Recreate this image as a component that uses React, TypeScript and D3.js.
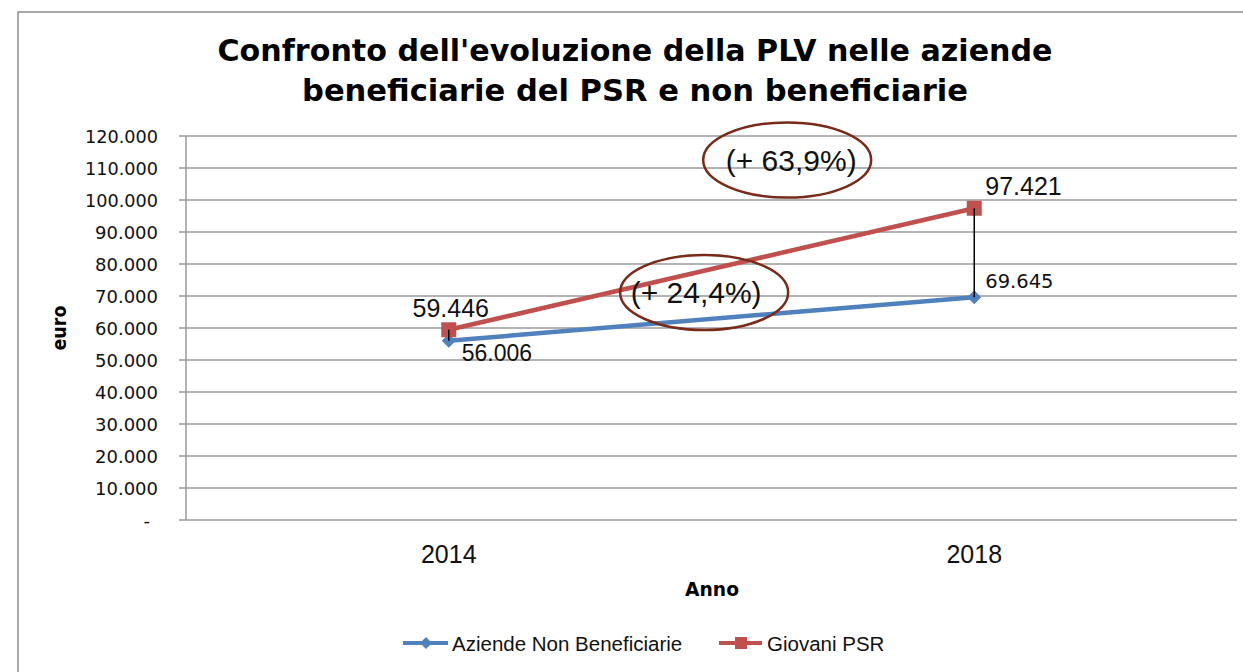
import * as d3 from 'd3';

// dati
const years = ['2014', '2018'];
const aziendeNonBenef = [56006, 69645];
const giovaniPSR = [59446, 97421];
const yTicks = [0, 10000, 20000, 30000, 40000, 50000, 60000, 70000, 80000, 90000, 100000, 110000, 120000];
const seriesNames = ['Aziende Non Beneficiarie', 'Giovani PSR'];
// annotazioni: t = frazione tra 2014 e 2018, v = valore sull'asse y
const growthLabels = ['(+ 24,4%)', '(+ 63,9%)'];
const growthT = [0.486, 0.644];
const growthV = [71100, 112500];

const W = 1243;
const H = 672;
const blue = '#4F81BD';
const red = '#C0504D';
const grid = '#9a9a9a';
const sans = "'Liberation Sans', Arial, sans-serif";
const tahoma = "'DejaVu Sans', Verdana, sans-serif";

const fmt = (v: number) => (v === 0 ? '-' : d3.format(',')(v).replace(/,/g, '.'));

function App() {
  const x = d3.scalePoint<string>().domain(years).range([186, 1237]).padding(0.5);
  const y = d3.scaleLinear().domain([0, 120000]).range([520, 136]);

  const line = d3
    .line<number>()
    .x((_, i) => x(years[i]) as number)
    .y((d) => y(d));

  const x0 = x(years[0]) as number;
  const x1 = x(years[1]) as number;

  const diamond = (cx: number, cy: number, r: number) =>
    `M${cx},${cy - r}L${cx + r},${cy}L${cx},${cy + r}L${cx - r},${cy}Z`;

  return (
    <svg
      width={W}
      height={H}
      style={{ position: 'absolute', left: 0, top: 0, display: 'block', background: '#fff' }}
    >
      <rect x={18} y={12} width={1400} height={800} fill="#fff" stroke="#8c8c8c" strokeWidth={1.5} />

      {/* titolo */}
      <text x={635} y={61} textAnchor="middle" fontFamily={tahoma} fontWeight="bold" fontSize={30.5}
        textLength={835} lengthAdjust="spacingAndGlyphs">
        Confronto dell'evoluzione della PLV nelle aziende
      </text>
      <text x={635} y={101} textAnchor="middle" fontFamily={tahoma} fontWeight="bold" fontSize={30.5}
        textLength={666} lengthAdjust="spacingAndGlyphs">
        beneficiarie del PSR e non beneficiarie
      </text>

      {/* griglia e asse y */}
      {yTicks.map((t) => (
        <g key={t}>
          <line x1={179} x2={1237} y1={y(t)} y2={y(t)} stroke={grid} strokeWidth={1.5} />
          <text
            x={t === 0 ? 150 : 158}
            y={y(t) + 7}
            textAnchor="end"
            fontFamily={tahoma}
            fontSize={18}
            textLength={t >= 100000 ? 73 : t > 0 ? 63 : undefined}
            lengthAdjust="spacingAndGlyphs"
            fill="#111"
          >
            {fmt(t)}
          </text>
        </g>
      ))}
      <line x1={186} x2={186} y1={y(120000)} y2={y(0)} stroke={grid} strokeWidth={1.5} />

      <text transform={`translate(66,328) rotate(-90)`} textAnchor="middle" fontFamily={tahoma}
        fontWeight="bold" fontSize={20} textLength={45} lengthAdjust="spacingAndGlyphs">
        euro
      </text>

      {/* asse x */}
      {years.map((yr) => (
        <text key={yr} x={x(yr)} y={563} textAnchor="middle" fontFamily={sans} fontSize={25} fill="#111">
          {yr}
        </text>
      ))}
      <text x={712} y={596} textAnchor="middle" fontFamily={tahoma} fontWeight="bold" fontSize={20}
        textLength={54} lengthAdjust="spacingAndGlyphs">
        Anno
      </text>

      {/* serie */}
      <path d={line(aziendeNonBenef) || ''} fill="none" stroke={blue} strokeWidth={4.5} />
      <path d={line(giovaniPSR) || ''} fill="none" stroke={red} strokeWidth={4.5} />

      {aziendeNonBenef.map((v, i) => (
        <path key={'b' + i} d={diamond(x(years[i]) as number, y(v), 7)} fill={blue} />
      ))}
      {giovaniPSR.map((v, i) => (
        <rect key={'r' + i} x={(x(years[i]) as number) - 7.5} y={y(v) - 7.5} width={15} height={15} fill={red} />
      ))}

      {/* linee max-min */}
      {years.map((yr, i) => (
        <line key={'hl' + yr} x1={x(yr)} x2={x(yr)} y1={y(giovaniPSR[i])} y2={y(aziendeNonBenef[i])}
          stroke="#000" strokeWidth={1.5} />
      ))}

      {/* etichette dati */}
      <text x={x0 + 2} y={y(giovaniPSR[0]) - 13} textAnchor="middle" fontFamily={sans} fontSize={25} fill="#111">
        {fmt(giovaniPSR[0])}
      </text>
      <text x={x0 + 13} y={y(aziendeNonBenef[0]) + 20} fontFamily={sans} fontSize={23} fill="#111">
        {fmt(aziendeNonBenef[0])}
      </text>
      <text x={x1 + 11} y={y(giovaniPSR[1]) - 13} fontFamily={sans} fontSize={25} fill="#111">
        {fmt(giovaniPSR[1])}
      </text>
      <text x={x1 + 11} y={y(aziendeNonBenef[1]) - 9} fontFamily={tahoma} fontSize={19.5} fill="#111">
        {fmt(aziendeNonBenef[1])}
      </text>

      {/* annotazioni crescita */}
      {growthLabels.map((lab, i) => {
        const cx = x0 + (x1 - x0) * growthT[i];
        const cy = y(growthV[i]);
        return (
          <g key={lab}>
            <ellipse cx={cx} cy={cy} rx={84} ry={37.5} fill="none" stroke="#7a2a18" strokeWidth={2.5} />
            <text x={cx - 8 + (i === 1 ? 12 : 0)} y={cy + 11} textAnchor="middle" fontFamily={sans}
              fontSize={30} fill="#111">
              {lab}
            </text>
          </g>
        );
      })}

      {/* legenda */}
      <g>
        <line x1={403} x2={448} y1={643} y2={643} stroke={blue} strokeWidth={4} />
        <path d={diamond(426, 643, 6)} fill={blue} />
        <text x={452} y={651} fontFamily={sans} fontSize={20.5} fill="#111">
          {seriesNames[0]}
        </text>
        <line x1={719} x2={762} y1={643} y2={643} stroke={red} strokeWidth={4} />
        <rect x={735} y={637} width={12} height={12} fill={red} />
        <text x={767} y={651} fontFamily={sans} fontSize={20.5} fill="#111">
          {seriesNames[1]}
        </text>
      </g>
    </svg>
  );
}

export default App;
